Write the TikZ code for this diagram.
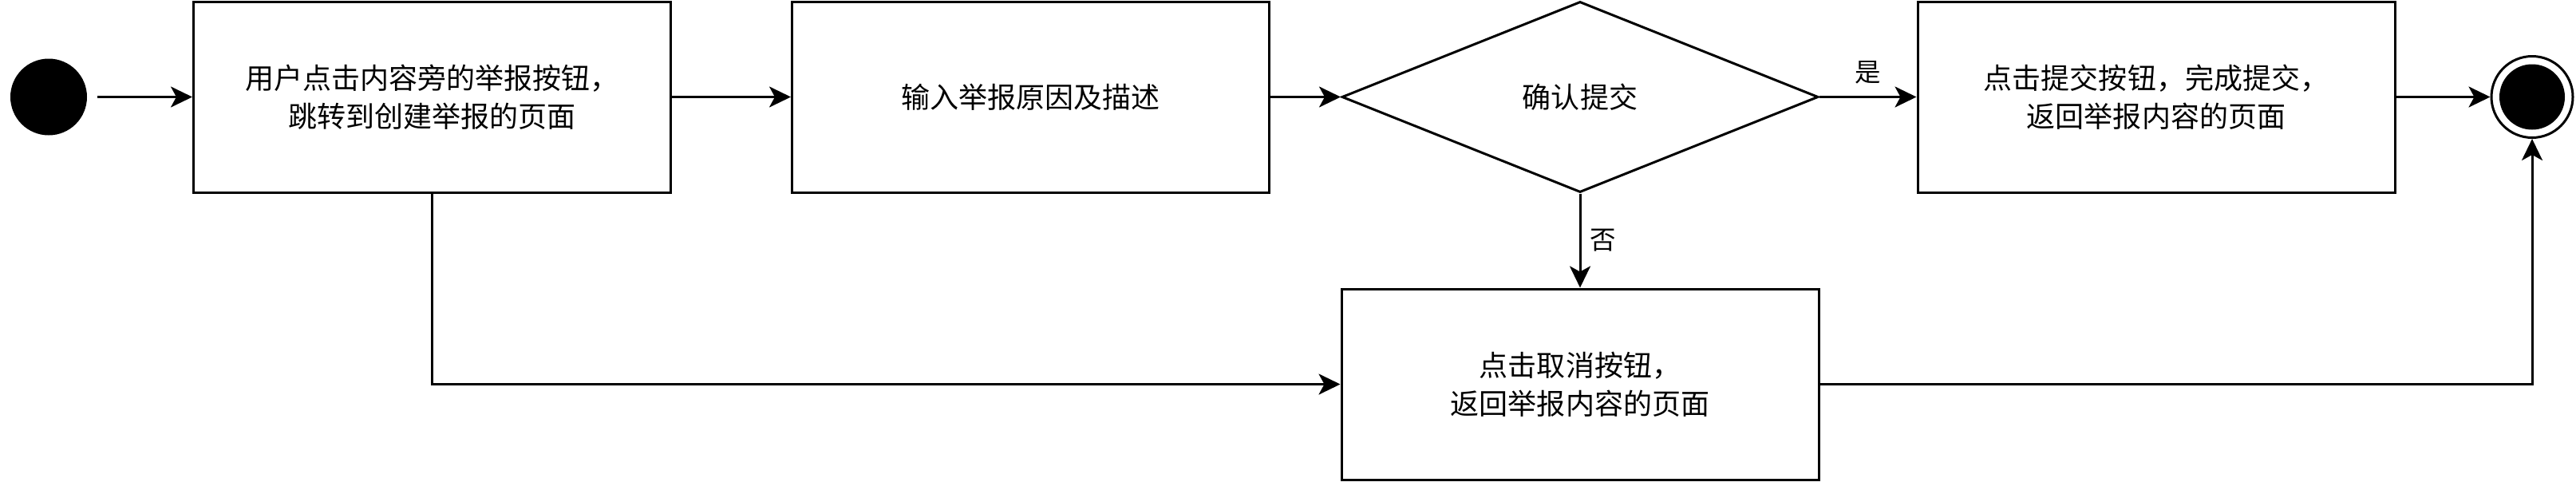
\documentclass[tikz,border=0pt]{standalone}
\usepackage{fontspec}
\setmainfont{Noto Sans CJK SC}
\usepackage{tikz}
\usetikzlibrary{arrows.meta,shapes.geometric,positioning}
\tikzstyle{block} = [draw, fill=white, rectangle, line width=0.06cm,
    minimum height=4.78cm, minimum width=11.96cm, align=center,
    font=\fontsize{20.5}{27.5}\selectfont]
\tikzstyle{decision} = [draw, fill=white, diamond, aspect=2.5, inner sep=0pt,
    line width=0.06cm, minimum height=4.78cm, minimum width=11.94cm,
    font=\fontsize{20.5}{27.5}\selectfont]
\tikzstyle{startstate} = [circle, fill=black, minimum size=1.92cm, inner sep=0pt]
\tikzstyle{endstate} = [circle, draw, fill=white, line width=0.06cm,
    minimum size=2.04cm, inner sep=0pt,
    path picture={\fill[black] (path picture bounding box.center) circle (0.82cm);}]
\tikzstyle{lbl} = [font=\fontsize{18.5}{20}\selectfont]

\begin{document}
\begin{tikzpicture}[auto, >={Stealth[length=0.54cm,width=0.52cm,inset=0.14cm]}]
    \useasboundingbox (0,0) rectangle (64.56,-12.06);
    \node [startstate] at (1.22,-2.43) (start) {};
    \node [block, right of=start, node distance=9.61cm] (click) {用户点击内容旁的举报按钮，\\跳转到创建举报的页面};
    \node [block, right of=click, node distance=15cm] (input) {输入举报原因及描述};
    \node [decision, right of=input, node distance=13.77cm] (confirm) {确认提交};
    \node [block, right of=confirm, node distance=14.44cm] (submit) {点击提交按钮，完成提交，\\返回举报内容的页面};
    \node [endstate, right of=submit, node distance=9.42cm] (end) {};
    \node [block, below of=confirm, node distance=7.2cm] (cancel) {点击取消按钮，\\返回举报内容的页面};
    \draw [->,line width=0.06cm,shorten <=0.26cm] (start) -- (click);
    \draw [->,line width=0.06cm] (click) -- (input);
    \draw [->,line width=0.06cm] (input) -- (confirm);
    \draw [->,line width=0.06cm] (confirm) -- node [lbl, above, yshift=0.18cm] {是} (submit);
    \draw [->,line width=0.06cm] (submit) -- (end);
    \draw [->,line width=0.06cm] (confirm) -- node [lbl, right, xshift=0.1cm] {否} (cancel);
    \draw [->,line width=0.06cm] (click) |- (cancel);
    \draw [->,line width=0.06cm] (cancel) -| (end);
\end{tikzpicture}
\end{document}
